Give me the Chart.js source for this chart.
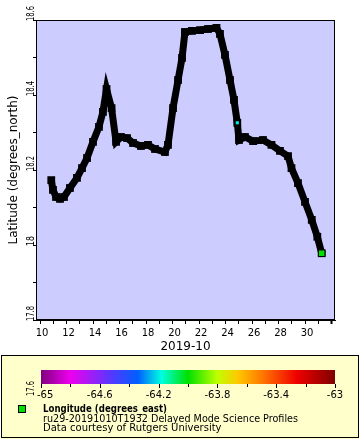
<!DOCTYPE html>
<html>
<head>
<meta charset="utf-8">
<script src="https://cdn.jsdelivr.net/npm/chart.js@4.4.1/dist/chart.umd.min.js"></script>
<style>
html,body{margin:0;padding:0;background:#fff;}
#c{display:block;}
</style>
</head>
<body>
<canvas id="c" width="360" height="440"></canvas>
<script>
// ---- data (x = day of October 2019, y = latitude) ----
const days = [10.85,10.98,11.21,11.51,11.81,12.26,12.79,13.17,13.55,14.00,14.45,14.75,15.02,15.40,15.74,16.11,16.57,17.02,17.62,18.15,18.68,19.43,19.66,20.04,20.42,20.72,20.94,21.47,22.08,22.68,23.32,23.58,23.96,24.34,24.64,24.89,25.02,25.47,26.08,26.83,27.47,28.11,28.72,28.98,29.47,30.00,30.51,30.93,31.26];
const lats = [18.173,18.147,18.128,18.123,18.128,18.152,18.179,18.205,18.232,18.275,18.315,18.355,18.416,18.365,18.275,18.288,18.285,18.272,18.264,18.267,18.256,18.248,18.267,18.365,18.440,18.499,18.568,18.571,18.573,18.576,18.579,18.563,18.507,18.440,18.387,18.326,18.280,18.288,18.277,18.280,18.267,18.251,18.237,18.205,18.165,18.115,18.067,18.022,17.978];
// points whose colour (longitude) is visible
const markDays = [24.89, 31.26];
const markLats = [18.326, 17.978];
const markLons = [-64.2, -64.0];

// ---- ticks ----
const xTickDays = [10,11,12,13,14,15,16,17,18,19,20,21,22,23,24,25,26,27,28,29,30,31,32];
const xTickLabels = ['10','12','14','16','18','20','22','24','26','28','30'];
const yTickValues = [17.8,17.9,18.0,18.1,18.2,18.3,18.4,18.5,18.6];
const yLabelValues = [17.6,17.8,18.0,18.2,18.4,18.6];
const yLabelTexts = ['17.6','17.8','18','18.2','18.4','18.6'];
const cbTickValues = [-65,-64.8,-64.6,-64.4,-64.2,-64,-63.8,-63.6,-63.4,-63.2,-63];
const cbLabelValues = [-65,-64.6,-64.2,-63.8,-63.4,-63];
const cbLabelTexts = ['-65','-64.6','-64.2','-63.8','-63.4','-63'];
const cbMin = -65, cbMax = -63;

// ---- colour map (longitude) ----
const cmap = [[0,'#800080'],[0.1,'#ee00ee'],[0.25,'#4a3cff'],[0.33,'#0060ff'],[0.41,'#00ffe0'],[0.5,'#00e000'],[0.6,'#c0ff00'],[0.67,'#ffc800'],[0.76,'#ff7000'],[0.87,'#f00000'],[1,'#800000']];
function hex2rgb(h){return [parseInt(h.substr(1,2),16),parseInt(h.substr(3,2),16),parseInt(h.substr(5,2),16)];}
function lonColor(lon){
  const t = Math.min(1,Math.max(0,(lon-cbMin)/(cbMax-cbMin)));
  for(let i=1;i<cmap.length;i++){
    if(t<=cmap[i][0]){
      const a=cmap[i-1], b=cmap[i], f=(t-a[0])/(b[0]-a[0]);
      const ca=hex2rgb(a[1]), cb=hex2rgb(b[1]);
      const c=ca.map((v,k)=>Math.round(v+(cb[k]-v)*f));
      return 'rgb('+c.join(',')+')';
    }
  }
  return cmap[cmap.length-1][1];
}
const markColors = markLons.map(lonColor);
const legendLon = -64.0;

const FONT = '"DejaVu Sans", sans-serif';

const bgPlugin = {
  id:'bg',
  beforeDraw(chart){
    const {ctx, chartArea:a} = chart;
    ctx.save();
    ctx.fillStyle = '#ccccff';
    ctx.fillRect(a.left, a.top, a.right-a.left, a.bottom-a.top);
    ctx.restore();
  },
  afterDraw(chart){
    const {ctx, chartArea:a} = chart;
    ctx.save();
    // plot frame
    ctx.strokeStyle = '#000'; ctx.lineWidth = 1;
    ctx.strokeRect(a.left+0.5, a.top+0.5, a.right-a.left-1, a.bottom-a.top-1);

    // legend box
    ctx.fillStyle = '#ffffcc';
    ctx.fillRect(1, 355, 358, 84);
    ctx.strokeStyle = '#000';
    ctx.strokeRect(1.5, 355.5, 357, 82);

    // colour bar
    const cbL = 41, cbR = 335, cbT = 370, cbB = 384;
    const cbX = v => cbL + (v-cbMin)/(cbMax-cbMin)*(cbR-cbL);
    const g = ctx.createLinearGradient(cbL,0,cbR,0);
    cmap.forEach(s=>g.addColorStop(s[0], s[1]));
    ctx.fillStyle = g;
    ctx.fillRect(cbL, cbT, cbR-cbL, cbB-cbT);
    ctx.strokeStyle = '#000'; ctx.lineWidth = 1;
    cbTickValues.forEach(v=>{
      const x = Math.round(cbX(v))+0.5;
      const major = cbLabelValues.some(w=>Math.abs(w-v)<1e-6);
      ctx.beginPath(); ctx.moveTo(x, cbB); ctx.lineTo(x, cbB+(major?4:3)); ctx.stroke();
    });
    ctx.fillStyle = '#000';
    ctx.font = '10px ' + FONT;
    ctx.textBaseline = 'alphabetic';
    cbLabelValues.forEach((v,i)=>{
      if(i===0){ ctx.textAlign='left'; ctx.fillText(cbLabelTexts[i], cbX(v)-4, 397.5); }
      else { ctx.textAlign='center'; ctx.fillText(cbLabelTexts[i], cbX(v), 397.5); }
    });

    // legend marker
    ctx.fillStyle = lonColor(legendLon);
    ctx.fillRect(19, 406, 6, 6);
    ctx.strokeStyle = '#000';
    ctx.strokeRect(18.5, 405.5, 7, 7);

    // legend text
    ctx.fillStyle = '#000';
    ctx.textAlign = 'left';
    ctx.font = 'bold 10px ' + FONT;
    ctx.fillText('Longitude (degrees_east)', 43, 412, 124);
    ctx.font = '10px ' + FONT;
    ctx.fillText('ru29-20191010T1932 Delayed Mode Science Profiles', 43, 421.5, 255);
    ctx.fillText('Data courtesy of Rutgers University', 43, 431);

    // y tick labels (rotated)
    const ys = chart.scales.y;
    ctx.font = '10px ' + FONT;
    ctx.textAlign = 'left'; ctx.textBaseline = 'alphabetic';
    yLabelValues.forEach((v,i)=>{
      const py = ys.getPixelForValue(v);
      ctx.save();
      ctx.translate(33.5, py+1);
      ctx.rotate(-Math.PI/2);
      ctx.fillText(yLabelTexts[i], 0, 0, yLabelTexts[i].length > 2 ? 15 : 10);
      ctx.restore();
    });
    ctx.restore();
  }
};

new Chart(document.getElementById('c'), {
  type:'line',
  data:{
    datasets:[
      {
        order:1,
        data: days.map((d,i)=>({x:d, y:lats[i]})),
        borderColor:'#000', borderWidth:7, tension:0,
        pointStyle:'rect', pointRadius:5.5, pointBackgroundColor:'#000', pointBorderWidth:0,
        borderJoinStyle:'miter'
      },
      {
        order:0,
        data: markDays.map((d,i)=>({x:d, y:markLats[i]})),
        showLine:false,
        pointStyle:'rect', pointRadius:[2.2, 4.6],
        pointBackgroundColor: markColors, pointBorderColor:'#000', pointBorderWidth:[0, 1]
      }
    ]
  },
  options:{
    responsive:false, animation:false, devicePixelRatio:1,
    layout:{padding:{top:20, right:25, left:0, bottom:85}},
    plugins:{legend:{display:false}, tooltip:{enabled:false}},
    scales:{
      x:{
        type:'linear', min:9.698, max:32.264,
        afterBuildTicks: s => { s.ticks = xTickDays.map(v=>({value:v})); },
        afterFit: s => { s.height = 35; },
        border:{display:true, color:'#000', width:1},
        grid:{drawOnChartArea:false, drawTicks:true, tickLength:4, tickColor:'#000',
              tickWidth: c => (c.tick && c.tick.value===32) ? 2 : 1},
        ticks:{autoSkip:false, maxRotation:0, minRotation:0, color:'#000', padding:3, labelOffset:2,
               font:{family:FONT, size:10},
               callback: v => { const s = String(Math.round(v)); return xTickLabels.includes(s) ? s : ''; }},
        title:{display:true, text:'2019-10', color:'#000', font:{family:FONT, size:12}, padding:{top:0, bottom:1}}
      },
      y:{
        type:'linear', min:17.8, max:18.6,
        afterBuildTicks: s => { s.ticks = yTickValues.map(v=>({value:v})); },
        afterFit: s => { s.width = 36; },
        border:{display:true, color:'#000', width:1},
        grid:{drawOnChartArea:false, drawTicks:true, tickLength:3, tickColor:'#000'},
        ticks:{color:'#000', callback: () => ''},
        title:{display:true, text:'Latitude (degrees_north)', color:'#000', font:{family:FONT, size:12}, padding:{top:7, bottom:0}}
      }
    }
  },
  plugins:[bgPlugin]
});
</script>
</body>
</html>
